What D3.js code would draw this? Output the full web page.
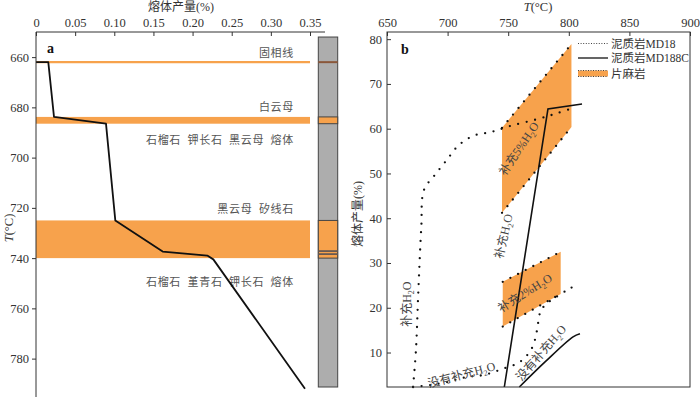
<!DOCTYPE html>
<html>
<head>
<meta charset="utf-8">
<script src="https://cdn.jsdelivr.net/npm/d3@7"></script>
<style>
  body { margin: 0; background: #fff; }
  svg { font-family: "Liberation Serif", "Noto Sans CJK SC", serif; }
</style>
</head>
<body>
<svg id="chart" width="700" height="397"></svg>
<script>
// ---- panel a data ----
const meltTemp = [662, 662, 683.8, 686.5, 725, 737.4, 739, 740.5, 792];
const meltYield = [0, 0.0157, 0.023, 0.0894, 0.1013, 0.1618, 0.2188, 0.2265, 0.3436];
const solidusT = 662;
const muscoviteBand = [683.8, 686.5];
const biotiteBand = [725, 740];
const columnRange = [652, 791.3];
const columnBands = [[683.8, 686.5], [725, 740]];
const columnDark = [737.2, 738.4];
const xTicksA = [0, 0.05, 0.10, 0.15, 0.20, 0.25, 0.30, 0.35];
const yTicksA = [660, 680, 700, 720, 740, 760, 780];
const fieldLabels = [
  { t: 658.2, text: '固相线' },
  { t: 679.7, text: '白云母' },
  { t: 693, text: '石榴石 钾长石 黑云母 熔体' },
  { t: 720.5, text: '黑云母 矽线石' },
  { t: 749.4, text: '石榴石 堇青石 钾长石 熔体' }
];

// ---- panel b data ----
const md188cT = [746.8, 782.8, 810.9];
const md188cV = [2.3, 64.4, 65.5];
const md188cDryT = [759.2, 780.4, 803.5, 809.2];
const md188cDryV = [2.3, 7.9, 13.5, 14.2];
const md18WetT = [671.5, 673.9, 675.8, 678.3, 680.5, 689.6, 699.3, 708.8, 721.2, 736.4, 752.9, 773.5, 788.6, 803.2];
const md18WetV = [2.3, 10.6, 23.3, 38.0, 46.3, 49.7, 53.0, 56.2, 58.4, 59.3, 60.7, 62.1, 63.3, 64.6];
const md18DryT = [671.5, 684.7, 699.5, 715.2, 730.0, 744.9, 759.7, 769.6, 773.8, 776.2, 780.4, 793.6, 800.2, 807.6];
const md18DryV = [2.3, 2.7, 3.4, 4.5, 5.0, 6.3, 7.9, 11.0, 15.0, 18.8, 20.6, 23.1, 24.2, 25.3];
// gneiss fields: [T left, T right, left low, left high, right low, right high]
const gneiss5 = [744.9, 802.2, 41.2, 60.2, 60.4, 78.9];
const gneiss2 = [745.5, 793.3, 15.8, 25.8, 23.1, 32.5];
const xTicksB = [650, 700, 750, 800, 850, 900];
const yTicksB = [10, 20, 30, 40, 50, 60, 70, 80];
const curveLabels = [
  { t: 758.9, v: 55.5, a: -56, pre: '补充5%H', post: 'O' },
  { t: 746.3, v: 36.0, a: -77, pre: '补充H', post: 'O' },
  { t: 763.9, v: 23.3, a: -32, pre: '补充2%H', post: 'O' },
  { t: 666.9, v: 20.8, a: -90, pre: '补充H', post: 'O' },
  { t: 711.5, v: 5.0, a: -15, pre: '没有补充H', post: 'O' },
  { t: 777.3, v: 9.9, a: -49, pre: '没有补充H', post: 'O' }
];
const legendItems = ['泥质岩MD18', '泥质岩MD188C', '片麻岩'];

const ORANGE = '#f7a24c';
const svg = d3.select('#chart');

// ================= panel a =================
const xA = d3.scaleLinear().domain([0, 0.35]).range([36, 310]);
const yA = d3.scaleLinear().domain([650, 795]).range([32, 396.3]);
const gA = svg.append('g');

gA.append('rect')
  .attr('x', xA(0)).attr('width', xA(0.35) - xA(0))
  .attr('y', yA(muscoviteBand[0])).attr('height', yA(muscoviteBand[1]) - yA(muscoviteBand[0]))
  .attr('fill', ORANGE);
gA.append('rect')
  .attr('x', xA(0)).attr('width', xA(0.35) - xA(0))
  .attr('y', yA(biotiteBand[0])).attr('height', yA(biotiteBand[1]) - yA(biotiteBand[0]))
  .attr('fill', ORANGE);
gA.append('line')
  .attr('x1', xA(0)).attr('x2', xA(0.35))
  .attr('y1', yA(solidusT)).attr('y2', yA(solidusT))
  .attr('stroke', ORANGE).attr('stroke-width', 2.2);

// labels: y is the text centre, shifted to a baseline
gA.selectAll('.field').data(fieldLabels).join('text')
  .attr('class', 'field')
  .attr('x', 294).attr('y', d => yA(d.t) + 4.3)
  .attr('text-anchor', 'end')
  .style('font-size', '11px').style('letter-spacing', '0.7px').style('word-spacing', '3px')
  .attr('fill', '#555')
  .text(d => d.text);

const meltLine = d3.line().x(d => xA(d[1])).y(d => yA(d[0]));
gA.append('path')
  .datum(d3.zip(meltTemp, meltYield))
  .attr('d', meltLine)
  .attr('fill', 'none').attr('stroke', '#111').attr('stroke-width', 1.8)
  .attr('stroke-linejoin', 'round');

// axes
const axA = gA.append('g').attr('transform', 'translate(0,32)')
  .call(d3.axisTop(xA).tickValues(xTicksA).tickSize(-4).tickPadding(5)
    .tickFormat(d => d === 0 ? '0' : d3.format('.2f')(d)));
axA.select('.domain').remove();
gA.append('line').attr('x1', 36).attr('x2', 325).attr('y1', 32).attr('y2', 32)
  .attr('stroke', '#333');
const ayA = gA.append('g').attr('transform', 'translate(36,0)')
  .call(d3.axisLeft(yA).tickValues(yTicksA).tickSize(4).tickPadding(3));
ayA.select('.domain').remove();
gA.append('line').attr('x1', 36).attr('x2', 36).attr('y1', 32).attr('y2', 397)
  .attr('stroke', '#333');
[axA, ayA].forEach(a => {
  a.selectAll('text').style('font-size', '12.5px').attr('fill', '#333')
    .style('font-family', '"Liberation Serif", serif');
  a.selectAll('line').attr('stroke', '#333');
});

gA.append('text').attr('x', 181).attr('y', 11).attr('text-anchor', 'middle')
  .style('font-size', '12px').attr('fill', '#333').text('熔体产量(%)');
const tA = gA.append('text').attr('transform', 'translate(13,228) rotate(-90)')
  .attr('text-anchor', 'middle').style('font-size', '12.5px').attr('fill', '#333');
tA.append('tspan').style('font-style', 'italic').text('T');
tA.append('tspan').text('(°C)');
gA.append('text').attr('x', 47).attr('y', 53).style('font-size', '14px')
  .style('font-weight', 'bold').attr('fill', '#111').text('a');

// column
const colX = 318.3, colW = 19.4;
gA.append('rect').attr('x', colX).attr('width', colW)
  .attr('y', yA(columnRange[0])).attr('height', yA(columnRange[1]) - yA(columnRange[0]))
  .attr('fill', '#adadad').attr('stroke', '#444').attr('stroke-width', 1);
gA.selectAll('.colband').data(columnBands).join('rect')
  .attr('class', 'colband')
  .attr('x', colX).attr('width', colW)
  .attr('y', d => yA(d[0])).attr('height', d => yA(d[1]) - yA(d[0]))
  .attr('fill', ORANGE).attr('stroke', '#444').attr('stroke-width', 1);
gA.selectAll('.coldark').data(columnDark).join('line')
  .attr('class', 'coldark')
  .attr('x1', colX).attr('x2', colX + colW)
  .attr('y1', d => yA(d)).attr('y2', d => yA(d))
  .attr('stroke', '#6a5a52').attr('stroke-width', 1.8);
gA.append('line').attr('x1', colX).attr('x2', colX + colW)
  .attr('y1', yA(solidusT)).attr('y2', yA(solidusT))
  .attr('stroke', '#8a573a').attr('stroke-width', 2);

// ================= panel b =================
const xB = d3.scaleLinear().domain([650, 900]).range([387, 690]);
const yB = d3.scaleLinear().domain([2.3, 81.6]).range([387, 32]);
const gB = svg.append('g');

const dotted = sel => sel.attr('fill', 'none').attr('stroke', '#111')
  .attr('stroke-width', 2.3).attr('stroke-linecap', 'round')
  .attr('stroke-dasharray', '0 8.6');

function drawField(f) {
  const [tl, tr, ll, lh, rl, rh] = f;
  const pts = [[tl, lh], [tr, rh], [tr, rl], [tl, ll]];
  gB.append('path')
    .attr('d', 'M' + pts.map(p => [xB(p[0]), yB(p[1])].join(',')).join('L') + 'Z')
    .attr('fill', ORANGE);
  [[[tl, lh], [tr, rh]], [[tl, ll], [tr, rl]]].forEach(seg => {
    gB.append('path').attr('d', d3.line().x(p => xB(p[0])).y(p => yB(p[1]))(seg)).call(dotted);
  });
}
drawField(gneiss5);
drawField(gneiss2);

const lineB = d3.line().x(d => xB(d[0])).y(d => yB(d[1]));
const lineBc = d3.line().x(d => xB(d[0])).y(d => yB(d[1])).curve(d3.curveCatmullRom.alpha(0.5));
gB.append('path').datum(d3.zip(md18WetT, md18WetV)).attr('d', lineBc).call(dotted);
gB.append('path').datum(d3.zip(md18DryT, md18DryV)).attr('d', lineBc).call(dotted);
gB.append('path').datum(d3.zip(md188cT, md188cV)).attr('d', lineB)
  .attr('fill', 'none').attr('stroke', '#111').attr('stroke-width', 1.6);
gB.append('path').datum(d3.zip(md188cDryT, md188cDryV)).attr('d', lineBc)
  .attr('fill', 'none').attr('stroke', '#111').attr('stroke-width', 1.6);

// curve labels
curveLabels.forEach(l => {
  const t = gB.append('text')
    .attr('transform', `translate(${xB(l.t)},${yB(l.v)}) rotate(${l.a})`)
    .attr('text-anchor', 'middle').attr('dy', 4)
    .style('font-size', '12px').attr('fill', '#444');
  t.append('tspan').text(l.pre);
  t.append('tspan').attr('dy', 3).style('font-size', '8px').text('2');
  t.append('tspan').attr('dy', -3).text(l.post);
});

// frame and axes
gB.append('rect').attr('x', 387).attr('y', 32).attr('width', 303).attr('height', 355)
  .attr('fill', 'none').attr('stroke', '#333').attr('stroke-width', 1);
const axB = gB.append('g').attr('transform', 'translate(0,32)')
  .call(d3.axisTop(xB).tickValues(xTicksB).tickSize(-4).tickPadding(5));
const ayB = gB.append('g').attr('transform', 'translate(387,0)')
  .call(d3.axisLeft(yB).tickValues(yTicksB).tickSize(-4).tickPadding(5));
[axB, ayB].forEach(a => {
  a.select('.domain').remove();
  a.selectAll('text').style('font-size', '12.5px').attr('fill', '#333')
    .style('font-family', '"Liberation Serif", serif');
  a.selectAll('line').attr('stroke', '#333');
});
const tB = gB.append('text').attr('x', 538).attr('y', 11).attr('text-anchor', 'middle')
  .style('font-size', '12.5px').attr('fill', '#333');
tB.append('tspan').style('font-style', 'italic').text('T');
tB.append('tspan').text('(°C)');
gB.append('text').attr('transform', 'translate(362,214) rotate(-90)')
  .attr('text-anchor', 'middle').style('font-size', '12px').attr('fill', '#333')
  .text('熔体产量(%)');
gB.append('text').attr('x', 401).attr('y', 54).style('font-size', '14px')
  .style('font-weight', 'bold').attr('fill', '#111').text('b');

// legend
const lg = gB.append('g').attr('transform', 'translate(578,0)');
const rowY = [43.5, 58, 73.5];
lg.append('line').attr('x1', 0).attr('x2', 30).attr('y1', rowY[0]).attr('y2', rowY[0])
  .attr('stroke', '#444').attr('stroke-width', 1).attr('stroke-dasharray', '1 1.6');
lg.append('line').attr('x1', 0).attr('x2', 30).attr('y1', rowY[1]).attr('y2', rowY[1])
  .attr('stroke', '#111').attr('stroke-width', 1.3);
lg.append('rect').attr('x', 0).attr('y', rowY[2] - 3).attr('width', 30).attr('height', 6)
  .attr('fill', ORANGE);
[rowY[2] - 3, rowY[2] + 3].forEach(y => lg.append('line')
  .attr('x1', 0).attr('x2', 30).attr('y1', y).attr('y2', y)
  .attr('stroke', '#444').attr('stroke-width', 1).attr('stroke-dasharray', '1 1.5'));
lg.selectAll('.lt').data(legendItems).join('text')
  .attr('class', 'lt')
  .attr('x', 33).attr('y', (d, i) => rowY[i] + 4)
  .style('font-size', '11.5px').attr('fill', '#333')
  .text(d => d);
</script>
</body>
</html>
